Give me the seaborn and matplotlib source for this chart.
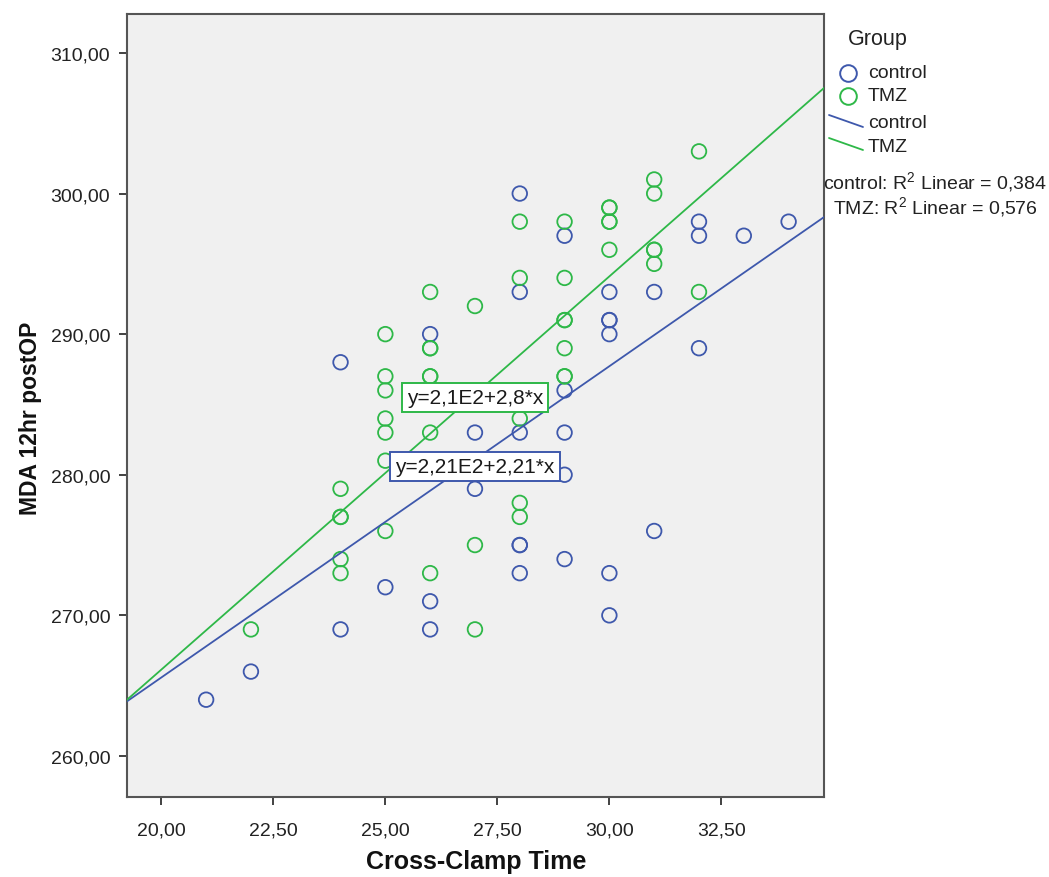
import numpy as np
import pandas as pd
import matplotlib
matplotlib.use("Agg")
import matplotlib.pyplot as plt
from matplotlib.lines import Line2D
from matplotlib.ticker import FixedLocator, FuncFormatter
import seaborn as sns

# Cross-clamp time (min) and MDA 12 h after surgery, one pair per patient
control_time = [21, 22, 24, 24, 25, 26, 26, 26, 27, 27,
                28, 28, 28, 28, 28, 28, 29, 29, 29, 29, 29,
                30, 30, 30, 30, 30, 30, 31, 31, 32, 32, 32, 33, 34]
control_mda = [264, 266, 288, 269, 272, 290, 271, 269, 283, 279,
               300, 293, 283, 275, 275, 273, 297, 286, 283, 280, 274,
               293, 291, 291, 290, 273, 270, 293, 276, 298, 297, 289, 297, 298]

tmz_time = [22, 24, 24, 24, 24, 24, 25, 25, 25, 25, 25, 25, 25,
            26, 26, 26, 26, 26, 26, 26, 27, 27, 27, 28, 28, 28, 28, 28,
            29, 29, 29, 29, 29, 29, 29, 30, 30, 30, 30, 30,
            31, 31, 31, 31, 31, 32, 32]
tmz_mda = [269, 279, 277, 277, 274, 273, 290, 287, 286, 284, 283, 281, 276,
           293, 289, 289, 287, 287, 283, 273, 292, 275, 269, 298, 294, 284, 278, 277,
           298, 294, 291, 291, 289, 287, 287, 299, 299, 298, 298, 296,
           301, 300, 296, 296, 295, 303, 293]

groups = ["control", "TMZ"]
group_colors = ["#3E58AC", "#2EB848"]

# Linear fit per group: y = intercept + slope * x
fit_intercept = [221.3, 210.2]
fit_slope = [2.214, 2.797]
fit_r2 = [0.384, 0.576]
fit_labels = ["y=2,21E2+2,21*x", "y=2,1E2+2,8*x"]
fit_label_pos = [(27.0, 280.6), (27.0, 285.5)]

x_ticks = [20.0, 22.5, 25.0, 27.5, 30.0, 32.5]
y_ticks = [260, 270, 280, 290, 300, 310]

df = pd.DataFrame({
    "time": control_time + tmz_time,
    "mda": control_mda + tmz_mda,
    "group": ["control"] * len(control_time) + ["TMZ"] * len(tmz_time),
})

sns.set_style("ticks")
plt.rcParams["font.family"] = ["Liberation Sans", "DejaVu Sans"]
plt.rcParams["mathtext.fontset"] = "custom"
plt.rcParams["mathtext.rm"] = "Liberation Sans"

W, H = 1049, 878
fig = plt.figure(figsize=(W / 100, H / 100), dpi=100)
fig.patch.set_facecolor("white")


def fx(px):
    return px / W


def fy(py):
    return 1 - py / H


L, R, T, B = 127, 824, 15, 798
ax = fig.add_axes([fx(L), fy(B), fx(R) - fx(L), fy(T) - fy(B)])
ax.set_facecolor("#F0F0F0")

xlim = (19.234, 34.79)
ylim = (257.08, 312.77)
ax.set_xlim(*xlim)
ax.set_ylim(*ylim)

for g, c in zip(groups, group_colors):
    sub = df[df["group"] == g]
    sns.scatterplot(x=sub["time"], y=sub["mda"], color=c, facecolor="none",
                    edgecolor=c, s=110, linewidth=1.3, legend=False, ax=ax,
                    zorder=3)

xs = np.array([xlim[0] - 0.5, xlim[1] + 0.5])
for b0, b1, c in zip(fit_intercept, fit_slope, group_colors):
    sns.lineplot(x=xs, y=b0 + b1 * xs, color=c, linewidth=1.3, ax=ax,
                 legend=False, zorder=4)
ax.set_xlim(*xlim)
ax.set_ylim(*ylim)

for (px_, py_), lab, c in zip(fit_label_pos, fit_labels, group_colors):
    ax.text(px_, py_, lab, ha="center", va="center", fontsize=15,
            color="#1a1a1a", zorder=6,
            bbox=dict(boxstyle="square,pad=0.25", fc="white", ec=c, lw=1.4))

fmt = FuncFormatter(lambda v, p: f"{v:.2f}".replace(".", ","))
ax.xaxis.set_major_locator(FixedLocator(x_ticks))
ax.yaxis.set_major_locator(FixedLocator(y_ticks))
ax.xaxis.set_major_formatter(fmt)
ax.yaxis.set_major_formatter(fmt)
ax.tick_params(axis="x", direction="out", length=6, width=1.3, colors="#333333",
               labelsize=14, labelcolor="#222222", pad=12)
ax.tick_params(axis="y", direction="out", length=6, width=1.3, colors="#333333",
               labelsize=14, labelcolor="#222222", pad=6)
for s in ax.spines.values():
    s.set_color("#555555")
    s.set_linewidth(1.5)

ax.set_xlabel("")
ax.set_ylabel("")
fig.text(fx(476), fy(862), "Cross-Clamp Time", ha="center", va="center",
         fontsize=18, fontweight="bold", color="#111111")
fig.text(fx(30), fy(418), "MDA 12hr postOP", ha="center", va="center",
         rotation=90, fontsize=16.5, fontweight="bold", color="#111111")

# Legend panel on the right
fig.text(fx(848), fy(39), "Group", ha="left", va="center", fontsize=15.5,
         color="#222222")
for i, (g, c) in enumerate(zip(groups, group_colors)):
    yy = 74 + 22.5 * i
    fig.add_artist(Line2D([fx(848)], [fy(yy)], marker="o", mfc="none", mec=c,
                          ms=12, mew=1.4, linestyle="none",
                          transform=fig.transFigure))
    fig.text(fx(868), fy(yy), g, ha="left", va="center", fontsize=14,
             color="#222222")
for i, (g, c) in enumerate(zip(groups, group_colors)):
    y0 = 116 + 23 * i
    fig.add_artist(Line2D([fx(829), fx(863)], [fy(y0), fy(y0 + 12)], color=c,
                          lw=1.3, transform=fig.transFigure))
    fig.text(fx(868), fy(y0 + 8), g, ha="left", va="center", fontsize=14,
             color="#222222")
for i, (g, r2) in enumerate(zip(groups, fit_r2)):
    txt = f"{g}: R$^{{2}}$ Linear = {r2:.3f}".replace(".", ",")
    fig.text(fx(935), fy(183 + 25 * i), txt, ha="center", va="center",
             fontsize=14, color="#222222")

fig.savefig("out.png", dpi=100, facecolor="white")
